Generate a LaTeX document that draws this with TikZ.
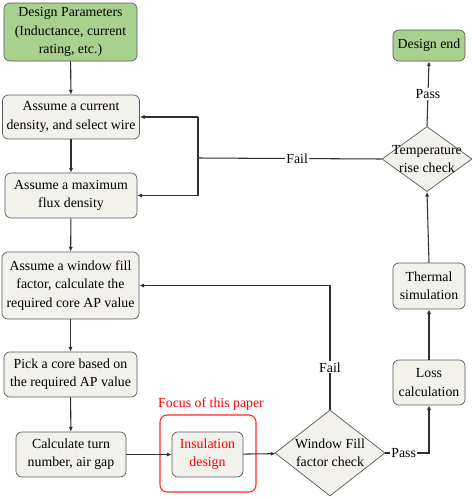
\documentclass[tikz,border=0pt]{standalone}
\usepackage{fontspec}
\setmainfont{Liberation Serif}
\usetikzlibrary{shapes.geometric,arrows.meta}
\definecolor{boxfill}{HTML}{F2F1EC}
\definecolor{startfill}{HTML}{A9D18E}
\definecolor{linegray}{HTML}{303030}
\begin{document}
\begin{tikzpicture}[x=0.03cm,y=-0.03cm,font=\fontsize{11.8}{15.6}\selectfont,
    box/.style={draw=black!65,fill=boxfill,rounded corners=5pt,align=center,inner sep=0pt,line width=0.6pt},
    startbox/.style={box,fill=startfill},
    decision/.style={draw=black!65,fill=boxfill,diamond,inner sep=0pt,line width=0.6pt},
    flow/.style={draw=linegray,line width=0.9pt},
    arrow/.style={flow,-{Latex[length=4pt,width=3.5pt]}},
    lbl/.style={fill=white,inner sep=1pt}]
    \useasboundingbox (0,0) rectangle (472,499);

    % left column
    \node[startbox,minimum width=3.99cm,minimum height=1.74cm] (params) at (70.5,32) {Design Parameters\\(Inductance, current\\rating, etc.)};
    \node[box,minimum width=4.11cm,minimum height=1.32cm] (current) at (71,117) {Assume a current\\density, and select wire};
    \node[box,minimum width=3.96cm,minimum height=1.35cm] (flux) at (71,195.5) {Assume a maximum\\flux density};
    \node[box,minimum width=4.11cm,minimum height=2.01cm] (window) at (70.5,285.5) {Assume a window fill\\factor, calculate the\\required core AP value};
    \node[box,minimum width=3.99cm,minimum height=1.35cm] (pick) at (70.5,374.5) {Pick a core based on\\the required AP value};
    \node[box,minimum width=3.3cm,minimum height=1.35cm] (turn) at (71,454.5) {Calculate turn\\number, air gap};

    % focus of this paper
    \node[draw=red!85,rounded corners=6pt,line width=0.9pt,minimum width=2.88cm,minimum height=2.31cm] (focus) at (208,453.5) {};
    \node[text=red] (focuslbl) at (211,404) {Focus of this paper};
    \node[box,text=red,minimum width=2.13cm,minimum height=1.35cm] (insul) at (207.5,454.5) {Insulation\\design};

    % checks and right column
    \node[decision,minimum width=3.3cm,minimum height=2.58cm] (wfill) at (330,453) {};
    \node[align=center] (wfilltxt) at (wfill) {Window Fill\\factor check};
    \node[box,minimum width=2.16cm,minimum height=1.35cm] (loss) at (429,382.5) {Loss\\calculation};
    \node[box,minimum width=2.16cm,minimum height=1.38cm] (thermal) at (429,286) {Thermal\\simulation};
    \node[decision,minimum width=2.7cm,minimum height=1.95cm] (temp) at (427,159) {};
    \node[align=center] (temptxt) at (temp) {Temperature\\rise check};
    \node[startbox,minimum width=2.16cm,minimum height=0.93cm] (end) at (429,45.5) {Design end};
    \coordinate (fork) at (198,158);

    \draw[arrow] (params) -- (current);
    \draw[arrow] (current) -- (flux);
    \draw[arrow] (flux) -- (window);
    \draw[arrow] (window) -- (pick);
    \draw[arrow] (pick) -- (turn);
    \draw[arrow] (turn) -- (insul);
    \draw[arrow] (insul) -- (wfill);
    \draw[arrow] (wfill.east) -- node[lbl,pos=0.42]{Pass} (loss.south |- wfill.east) -- (loss.south);
    \draw[arrow] (wfill.north) -- node[lbl,pos=0.34]{Fail} (wfill.north |- window.east) -- (window.east);
    \draw[arrow] (loss) -- (thermal);
    \draw[arrow] (thermal.north) -- (temp.south);
    \draw[arrow] (temp.north) -- node[lbl]{Pass} (end.south);
    \draw[flow] (temp.west) -- node[lbl,pos=0.46]{Fail} (fork);
    \draw[flow] (fork |- current.east) -- (fork |- flux.east);
    \draw[arrow] (fork |- current.east) -- (current.east);
    \draw[arrow] (fork |- flux.east) -- (flux.east);
\end{tikzpicture}
\end{document}
